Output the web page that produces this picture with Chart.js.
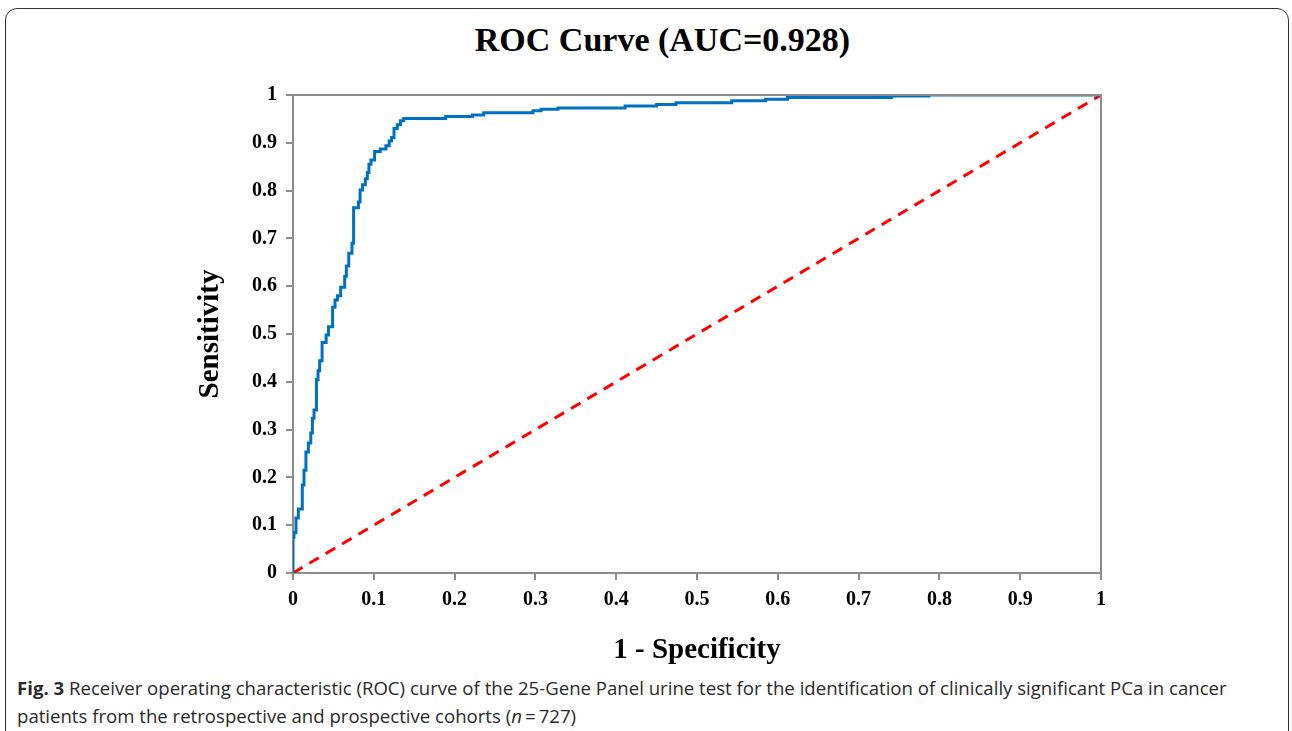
<!DOCTYPE html>
<html>
<head>
<meta charset="utf-8">
<script src="https://cdn.jsdelivr.net/npm/chart.js@4"></script>
<style>
  body { margin: 0; background: #fff; width: 1292px; height: 731px; overflow: hidden; position: relative; }
  #frame { position: absolute; left: 5px; top: 8px; width: 1282px; height: 760px; border: 1.5px solid #333; border-radius: 12px; }
  #wrap { position: absolute; left: 0; top: 0; width: 1292px; height: 670px; }
  #title { position: absolute; left: 0; top: 20px; width: 1325px; text-align: center; font-family: "Liberation Serif", "Times New Roman", serif; font-weight: bold; font-size: 34px; line-height: 40px; color: #000; }
  #caption { position: absolute; left: 17px; top: 674px; width: 1245px; font-family: "Open Sans", sans-serif; font-size: 18.6px; line-height: 28px; color: #2a2a2a; }
</style>
</head>
<body>
<div id="frame"></div>
<div id="title">ROC Curve (AUC=0.928)</div>
<div id="wrap"><canvas id="rocChart" width="1292" height="670"></canvas></div>
<div id="caption"><b>Fig. 3</b> Receiver operating characteristic (ROC) curve of the 25-Gene Panel urine test for the identification of clinically significant PCa in cancer patients from the retrospective and prospective cohorts (<i>n</i>&thinsp;=&thinsp;727)</div>
<script>
// ROC curve corners (1 - specificity, sensitivity)
const fpr = [0, 0.0012, 0.0037, 0.0066, 0.0115, 0.0136, 0.016, 0.019, 0.022, 0.024, 0.026, 0.029,
  0.031, 0.033, 0.036, 0.041, 0.044, 0.049, 0.052, 0.055, 0.059, 0.064, 0.066, 0.069, 0.073, 0.075,
  0.081, 0.083, 0.086, 0.0895, 0.092, 0.094, 0.0965, 0.101, 0.108, 0.115, 0.119, 0.122, 0.125,
  0.129, 0.133, 0.137, 0.189, 0.222, 0.236, 0.297, 0.307, 0.328, 0.411, 0.450, 0.474, 0.543,
  0.585, 0.612, 0.741, 0.787, 0.852, 1.0];
const tpr = [0, 0.075, 0.084, 0.115, 0.134, 0.184, 0.215, 0.253, 0.272, 0.293, 0.324, 0.341,
  0.405, 0.423, 0.444, 0.482, 0.498, 0.515, 0.556, 0.571, 0.580, 0.598, 0.621, 0.642, 0.669, 0.690,
  0.764, 0.776, 0.801, 0.812, 0.825, 0.838, 0.855, 0.864, 0.882, 0.887, 0.894, 0.904, 0.911,
  0.930, 0.938, 0.946, 0.951, 0.955, 0.958, 0.963, 0.967, 0.970, 0.973, 0.977, 0.980, 0.984,
  0.988, 0.991, 0.995, 0.998, 1.0, 1.0];
const refX = [0, 1];
const refY = [0, 1];
const tickValues = [0, 0.1, 0.2, 0.3, 0.4, 0.5, 0.6, 0.7, 0.8, 0.9, 1];
const tickLabels = ["0", "0.1", "0.2", "0.3", "0.4", "0.5", "0.6", "0.7", "0.8", "0.9", "1"];

const serifBold = { family: "'Liberation Serif', 'Times New Roman', serif", weight: "bold" };

const plotBox = {
  id: "plotBox",
  afterDatasetsDraw(chart) {
    const a = chart.chartArea;
    const ctx = chart.ctx;
    ctx.save();
    ctx.strokeStyle = "#8c8c8c";
    ctx.lineWidth = 2;
    ctx.beginPath();
    ctx.moveTo(a.left, a.top);
    ctx.lineTo(a.right, a.top);
    ctx.lineTo(a.right, a.bottom);
    ctx.stroke();
    ctx.restore();
  }
};

function fixTicks(scale) {
  scale.ticks = tickValues.map(v => ({ value: v }));
}

document.addEventListener("DOMContentLoaded", function () {
  const ctx = document.getElementById("rocChart").getContext("2d");
  new Chart(ctx, {
    type: "line",
    data: {
      datasets: [{
        label: "ROC",
        data: fpr.map((x, i) => ({ x: x, y: tpr[i] })),
        borderColor: "#0070c0",
        borderWidth: 3,
        stepped: "after",
        pointRadius: 0,
        fill: false
      }, {
        label: "Reference",
        data: refX.map((x, i) => ({ x: x, y: refY[i] })),
        borderColor: "#ff0000",
        borderWidth: 3,
        borderDash: [11, 8],
        pointRadius: 0,
        fill: false
      }]
    },
    options: {
      responsive: false,
      animation: false,
      layout: { padding: { left: 193, right: 191, top: 95, bottom: 0 } },
      plugins: {
        legend: { display: false },
        tooltip: { enabled: false },
        title: { display: false }
      },
      scales: {
        x: {
          type: "linear",
          min: 0,
          max: 1,
          afterFit(scale) { scale.height = 97; },
          afterBuildTicks: fixTicks,
          ticks: {
            color: "#000",
            font: { ...serifBold, size: 20 },
            padding: 8,
            maxRotation: 0,
            callback: (v, i) => tickLabels[i]
          },
          grid: { drawOnChartArea: false, drawTicks: true, tickLength: 7, color: "#8c8c8c", lineWidth: 2 },
          border: { color: "#8c8c8c", width: 2 },
          title: {
            display: true,
            text: "1 - Specificity",
            color: "#000",
            font: { ...serifBold, size: 29 },
            padding: { top: 0, bottom: 1.6 }
          }
        },
        y: {
          type: "linear",
          min: 0,
          max: 1,
          afterFit(scale) { scale.width = 100; },
          afterBuildTicks: fixTicks,
          ticks: {
            color: "#000",
            font: { ...serifBold, size: 20 },
            padding: 9,
            callback: (v, i) => tickLabels[i]
          },
          grid: { drawOnChartArea: false, drawTicks: true, tickLength: 7, color: "#8c8c8c", lineWidth: 2 },
          border: { color: "#8c8c8c", width: 2 },
          title: {
            display: true,
            text: "Sensitivity",
            color: "#000",
            font: { ...serifBold, size: 29 },
            padding: { top: 0, bottom: 0 }
          }
        }
      }
    },
    plugins: [plotBox]
  });
});
</script>
</body>
</html>
